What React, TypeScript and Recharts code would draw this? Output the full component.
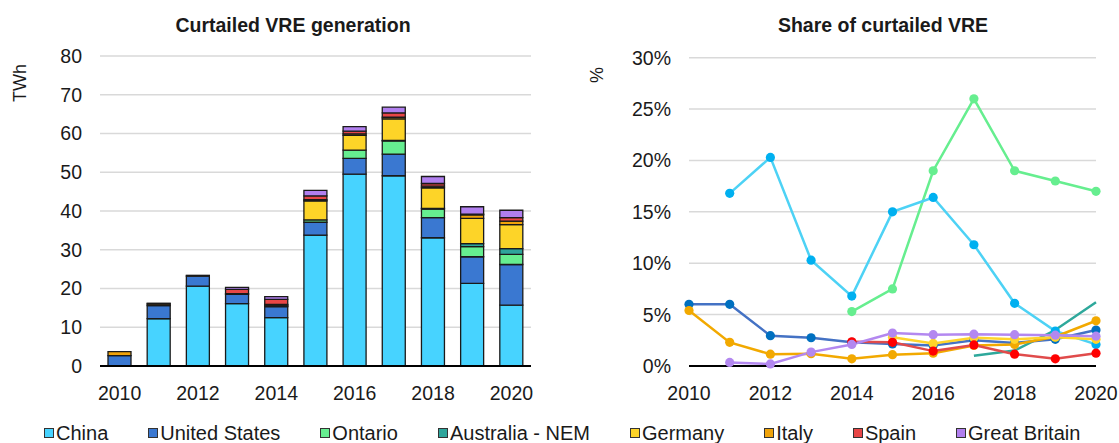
import React from 'react';
import { BarChart, Bar, LineChart, Line, XAxis, YAxis, CartesianGrid } from 'recharts';

const years = [2010, 2011, 2012, 2013, 2014, 2015, 2016, 2017, 2018, 2019, 2020];

// Curtailed VRE generation (TWh)
const chinaTWh = [0, 12.2, 20.6, 16.1, 12.5, 33.8, 49.5, 49.1, 33.1, 21.3, 15.7];
const usTWh = [2.7, 3.4, 2.6, 2.4, 2.8, 3.3, 4.1, 5.6, 5.2, 6.9, 10.5];
const ontarioTWh = [0, 0, 0, 0, 0.2, 0.6, 2.1, 3.4, 2.2, 2.6, 2.6];
const australiaTWh = [0, 0, 0, 0, 0, 0, 0, 0.1, 0.2, 0.8, 1.5];
const germanyTWh = [0, 0, 0, 0, 0.2, 4.9, 3.8, 5.6, 5.3, 6.5, 6.2];
const italyTWh = [1.0, 0.4, 0.2, 0.2, 0.2, 0.3, 0.4, 0.4, 0.4, 0.9, 0.9];
const spainTWh = [0, 0, 0, 1.1, 1.3, 1.0, 0.7, 1.1, 0.7, 0.2, 0.9];
const gbTWh = [0, 0.2, 0, 0.5, 0.7, 1.4, 1.2, 1.5, 1.8, 1.9, 1.9];

// Share of curtailed VRE (%)
const chinaShare = [null, 16.8, 20.3, 10.3, 6.8, 15.0, 16.4, 11.8, 6.1, 3.4, 2.1];
const usShare = [6.0, 6.0, 2.95, 2.75, 2.3, 2.15, 2.0, 2.5, 2.25, 2.6, 3.5];
const ontarioShare = [null, null, null, null, 5.3, 7.5, 19.0, 26.0, 19.0, 18.0, 17.0];
const australiaShare = [null, null, null, null, null, null, null, 1.0, 1.5, 3.5, 6.2];
const germanyShare = [null, null, null, null, null, 2.8, 2.2, 2.75, 2.6, 2.8, 2.6];
const italyShare = [5.4, 2.3, 1.15, 1.2, 0.7, 1.1, 1.25, 2.0, 2.1, 2.85, 4.4];
const spainShare = [null, null, null, null, 2.35, 2.3, 1.45, 2.05, 1.15, 0.7, 1.25];
const gbShare = [null, 0.35, 0.2, 1.35, 2.1, 3.2, 3.05, 3.1, 3.05, 3.0, 2.9];

const twhTicks = [0, 10, 20, 30, 40, 50, 60, 70, 80];
const shareTicks = [0, 5, 10, 15, 20, 25, 30];
const yearTicks = [2010, 2012, 2014, 2016, 2018, 2020];

const series = [
  { key: 'china', name: 'China', color: '#47D3FF', line: '#4DD2F5', dot: '#00B0F0' },
  { key: 'us', name: 'United States', color: '#3A78D1', line: '#4472C4', dot: '#0070C0' },
  { key: 'ontario', name: 'Ontario', color: '#66EE90', line: '#66EE8F', dot: '#66EE8F' },
  { key: 'australia', name: 'Australia - NEM', color: '#2EA59B', line: '#2EA89B', dot: '' },
  { key: 'germany', name: 'Germany', color: '#FDD428', line: '#FFD42A', dot: '#FFD42A' },
  { key: 'italy', name: 'Italy', color: '#F0A30A', line: '#F2A900', dot: '#F2A900' },
  { key: 'spain', name: 'Spain', color: '#E84646', line: '#E04B4B', dot: '#FF0000' },
  { key: 'gb', name: 'Great Britain', color: '#B17FEF', line: '#B388F0', dot: '#B388F0' },
];

const twhData = years.map((y, i) => ({
  year: y,
  china: chinaTWh[i],
  us: usTWh[i],
  ontario: ontarioTWh[i],
  australia: australiaTWh[i],
  germany: germanyTWh[i],
  italy: italyTWh[i],
  spain: spainTWh[i],
  gb: gbTWh[i],
}));

const shareData = years.map((y, i) => ({
  year: y,
  china: chinaShare[i],
  us: usShare[i],
  ontario: ontarioShare[i],
  australia: australiaShare[i],
  germany: germanyShare[i],
  italy: italyShare[i],
  spain: spainShare[i],
  gb: gbShare[i],
}));

const FONT = '"Liberation Sans", Arial, sans-serif';
const tickStyle = { fontSize: 19.5, fill: '#1a1a1a', fontFamily: FONT };

const lineOrder = ['australia', 'ontario', 'china', 'us', 'italy', 'germany', 'spain', 'gb'];

export default function App() {
  return (
    <div style={{ position: 'absolute', left: 0, top: 0, width: 1119, height: 443, background: '#fff', fontFamily: FONT, color: '#1a1a1a' }}>
      <div style={{ position: 'absolute', left: 93, top: 15, width: 400, textAlign: 'center', fontWeight: 'bold', fontSize: 19.5, lineHeight: '20px' }}>
        Curtailed VRE generation
      </div>
      <div style={{ position: 'absolute', left: 683, top: 15, width: 400, textAlign: 'center', fontWeight: 'bold', fontSize: 19.5, lineHeight: '20px' }}>
        Share of curtailed VRE
      </div>
      <div style={{ position: 'absolute', left: 20, top: 83, width: 0, height: 0 }}>
        <div style={{ position: 'absolute', transform: 'translate(-50%, -50%) rotate(-90deg)', fontSize: 18, whiteSpace: 'nowrap', lineHeight: '20px' }}>TWh</div>
      </div>
      <div style={{ position: 'absolute', left: 597, top: 75, width: 0, height: 0 }}>
        <div style={{ position: 'absolute', transform: 'translate(-50%, -50%) rotate(-90deg)', fontSize: 18, whiteSpace: 'nowrap', lineHeight: '20px' }}>%</div>
      </div>

      <div style={{ position: 'absolute', left: 0, top: 0 }}>
        <BarChart width={560} height={410} data={twhData} margin={{ top: 56, right: 29, bottom: 10, left: 40 }} barSize={23}>
          <CartesianGrid vertical={false} stroke="#d9d9d9" strokeWidth={1.5} />
          <XAxis dataKey="year" interval={1} tickLine={false} axisLine={{ stroke: '#000', strokeWidth: 2 }} tick={tickStyle} tickMargin={14} height={34} />
          <YAxis domain={[0, 80]} ticks={twhTicks} tickLine={false} axisLine={false} tick={tickStyle} tickMargin={12} width={60} />
          {series.map((s) => (
            <Bar key={s.key} dataKey={s.key} stackId="a" fill={s.color} stroke="#1a1a1a" strokeWidth={1.3} isAnimationActive={false} />
          ))}
        </BarChart>
      </div>

      <div style={{ position: 'absolute', left: 560, top: 0 }}>
        <LineChart width={559} height={410} data={shareData} margin={{ top: 57.7, right: 23, bottom: 10, left: 69 }}>
          <CartesianGrid vertical={false} stroke="#d9d9d9" strokeWidth={1.5} />
          <XAxis dataKey="year" type="number" domain={[2010, 2020]} ticks={yearTicks} tickLine={false} axisLine={{ stroke: '#000', strokeWidth: 2 }} tick={tickStyle} tickMargin={14} height={34} />
          <YAxis domain={[0, 30]} ticks={shareTicks} tickFormatter={(v) => `${v}%`} tickLine={false} axisLine={false} tick={tickStyle} tickMargin={12} width={60} />
          {lineOrder.map((k) => {
            const s = series.find((x) => x.key === k)!;
            return (
              <Line
                key={s.key}
                dataKey={s.key}
                stroke={s.line}
                strokeWidth={2.5}
                dot={s.dot ? { r: 4.6, fill: s.dot, stroke: 'none' } : false}
                activeDot={false}
                isAnimationActive={false}
              />
            );
          })}
        </LineChart>
      </div>

      <div style={{ position: 'absolute', left: 44, top: 423, display: 'flex', alignItems: 'center', fontSize: 20, lineHeight: '20px', whiteSpace: 'nowrap' }}>
        {series.map((s, i) => (
          <div key={s.key} style={{ display: 'flex', alignItems: 'center', marginRight: i < series.length - 1 ? 40 : 0 }}>
            <span style={{ display: 'inline-block', width: 8, height: 8, background: s.color, border: '1px solid #333', marginRight: 2 }} />
            <span>{s.name}</span>
          </div>
        ))}
      </div>
    </div>
  );
}
